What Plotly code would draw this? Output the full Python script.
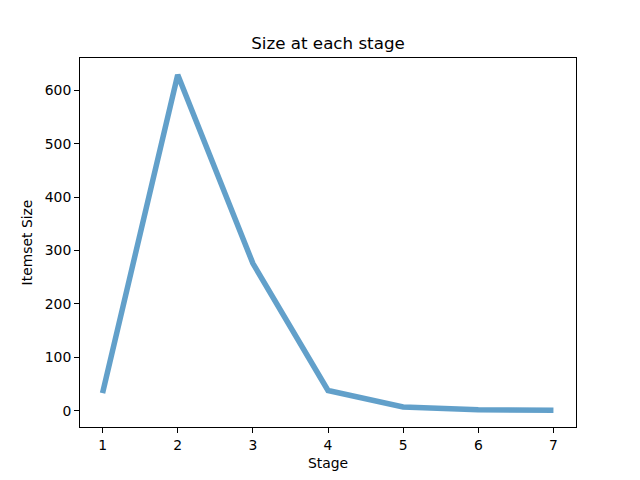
import plotly.graph_objects as go

stages = [1, 2, 3, 4, 5, 6, 7]
itemset_size = [33, 629, 276, 38, 7, 2, 1]

fig = go.Figure()
fig.add_trace(go.Scatter(
    x=stages, y=itemset_size, mode="lines",
    line=dict(color="rgba(31,119,180,0.7)", width=5.5),
))

ymin, ymax = min(itemset_size), max(itemset_size)
pad = 0.05 * (ymax - ymin)

axis_common = dict(
    showgrid=False, zeroline=False, showline=True, linecolor="black", linewidth=1,
    mirror=True, ticks="outside", ticklen=5, tickcolor="black", tickwidth=1,
    tickfont=dict(family="DejaVu Sans", size=13.9, color="black"),
)

# page body has an 8px margin, so the figure is sized/shifted to compensate
W, H = 632, 472
fig.update_layout(
    width=W, height=H,
    margin=dict(l=72, r=64, t=49.6, b=52.8),
    paper_bgcolor="white", plot_bgcolor="white",
    showlegend=False,
    title=dict(text="Size at each stage", x=0.5, xref="paper", xanchor="center",
               y=1 - 35 / H, yref="container", yanchor="middle",
               font=dict(family="DejaVu Sans", size=16.7, color="black")),
    xaxis=dict(range=[0.7, 7.3], tickmode="array", tickvals=stages,
               title=dict(text="Stage", standoff=6,
                          font=dict(family="DejaVu Sans", size=13.9, color="black")),
               **axis_common),
    yaxis=dict(range=[ymin - pad, ymax + pad], tickmode="array",
               tickvals=[0, 100, 200, 300, 400, 500, 600],
               title=dict(text="Itemset Size", standoff=8,
                          font=dict(family="DejaVu Sans", size=13.9, color="black")),
               **axis_common),
)

fig.write_html("out.html")
